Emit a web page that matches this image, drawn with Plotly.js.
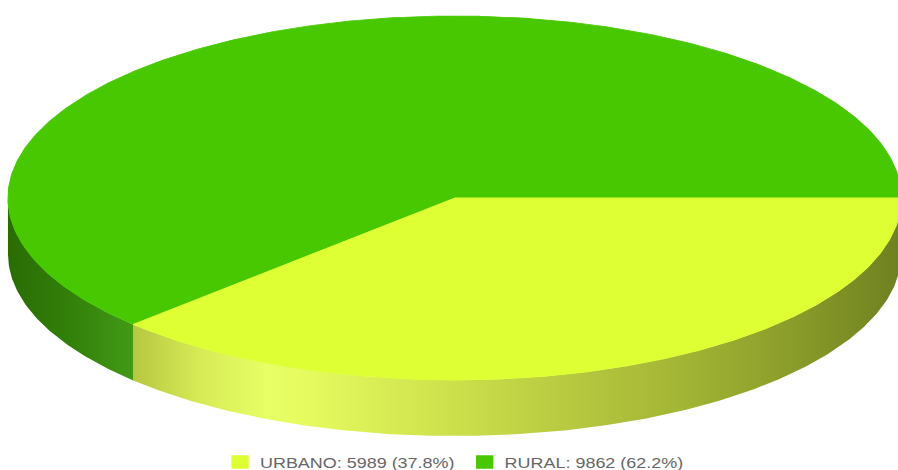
<!DOCTYPE html>
<html>
<head>
<meta charset="utf-8">
<script src="https://cdn.plot.ly/plotly-3.0.1.min.js"></script>
<style>
  html, body { margin: 0; padding: 0; background: #fff; overflow: hidden; }
  #chart { width: 700px; height: 470px; transform: scaleX(1.282857); transform-origin: 0 0; }
  #chart g.legendpoints { transform: translateX(4.5px); }
</style>
</head>
<body>
<div id="chart"></div>
<script>
// ---- data ----
const categories = ['URBANO', 'RURAL'];
const values = [5989, 9862];

// ---- style ----
const topColors = ['#DDFF33', '#48C800'];
const sideScales = [
  [[0, '#b7c742'], [0.085, '#d6ea55'], [0.176, '#e8ff66'], [0.23, '#e4fa5e'], [0.39, '#d0e44e'],
   [0.59, '#b4c63e'], [0.72, '#a2b434'], [0.85, '#8c9e2a'], [1, '#6e8020']],
  [[0, '#2a6c04'], [0.5, '#32800a'], [1, '#429a16']]
];
const W = 700, H = 470;
const CX = 354.4, CY = 198, RX = 348.2, RY = 182, DEPTH = 56;

function pt(tDeg, dy) {
  const t = tDeg * Math.PI / 180;
  return [CX + RX * Math.cos(t), CY + RY * Math.sin(t) + (dy || 0)];
}
function arc(a0, a1, dy) {
  const xs = [], ys = [];
  const n = Math.max(2, Math.ceil(Math.abs(a1 - a0) / 0.5));
  for (let i = 0; i <= n; i++) {
    const p = pt(a0 + (a1 - a0) * i / n, dy);
    xs.push(p[0]); ys.push(p[1]);
  }
  return [xs, ys];
}

const total = values.reduce((a, b) => a + b, 0);
const traces = [];
const tops = [];
let acc = 0;
values.forEach((v, i) => {
  const a0 = acc / total * 360;
  acc += v;
  const a1 = acc / total * 360;
  // visible side (front half: 0..180 deg)
  const s0 = Math.max(a0, 0), s1 = Math.min(a1, 180);
  if (s1 > s0) {
    const [tx, ty] = arc(s0, s1, 0);
    const [bx, by] = arc(s1, s0, DEPTH);
    const xs = tx.concat(bx), ys = ty.concat(by);
    traces.push({
      type: 'scatter', mode: 'lines', x: xs, y: ys, fill: 'toself',
      line: { width: 0, color: topColors[i] },
      fillgradient: { type: 'horizontal', colorscale: sideScales[i],
                      start: Math.min(...xs), stop: Math.max(...xs) },
      hoverinfo: 'skip', showlegend: false
    });
  }
  const [ax, ay] = arc(a0, a1, 0);
  tops.push({
    type: 'scatter', mode: 'lines',
    x: [CX].concat(ax, [CX]), y: [CY].concat(ay, [CY]),
    fill: 'toself', fillcolor: topColors[i],
    line: { width: 0.8, color: topColors[i] },
    hoverinfo: 'skip', showlegend: false
  });
});
// draw larger slice first so smaller one overlays the shared edges
tops.reverse().forEach(t => traces.push(t));

// legend entries
categories.forEach((c, i) => {
  const pct = (values[i] / total * 100).toFixed(1);
  traces.push({
    type: 'scatter', mode: 'markers', x: [null], y: [null],
    name: c + ': ' + values[i] + ' (' + pct + '%)',
    marker: { symbol: 'square', size: 13.5, color: topColors[i] },
    hoverinfo: 'skip', showlegend: true
  });
});

const layout = {
  width: W, height: H,
  margin: { l: 0, r: 0, t: 0, b: 0, autoexpand: false },
  paper_bgcolor: '#ffffff', plot_bgcolor: '#ffffff',
  xaxis: { range: [0, W], visible: false, fixedrange: true },
  yaxis: { range: [H, 0], visible: false, fixedrange: true },
  showlegend: true,
  legend: {
    orientation: 'h', x: 0.5052, xanchor: 'center', y: -0.018, yanchor: 'bottom',
    entrywidth: 145.7, entrywidthmode: 'pixels',
    font: { family: 'Liberation Sans, Arial, sans-serif', size: 14, color: '#666666' },
    itemclick: false, itemdoubleclick: false, bgcolor: 'rgba(0,0,0,0)'
  },
  hovermode: false
};

Plotly.newPlot('chart', traces, layout, { displayModeBar: false, staticPlot: true });
</script>
</body>
</html>
